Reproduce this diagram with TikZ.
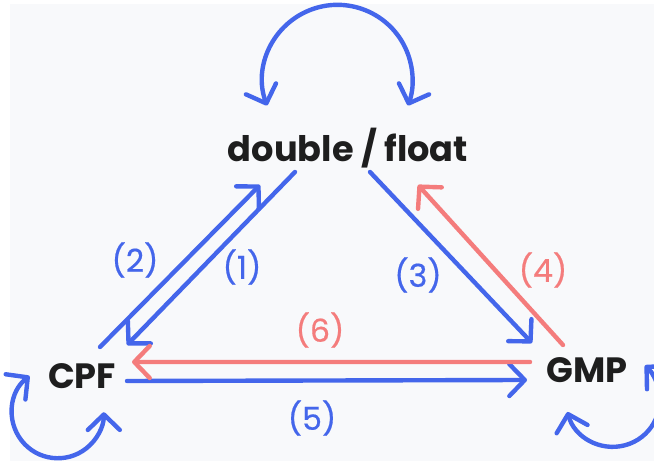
\documentclass[tikz,border=0pt]{standalone}
\usepackage{fontspec}
\setmainfont{Poppins}
\newfontfamily\numfont{Poppins}[FakeBold=0.5]
\definecolor{inkblack}{HTML}{1E1E1E}
\definecolor{sketchblue}{HTML}{4466EB}
\definecolor{sketchred}{HTML}{F47C7C}
\definecolor{paper}{HTML}{F8F9FB}
\usetikzlibrary{arrows.meta}

\begin{document}
\begin{tikzpicture}[
  lbl/.style={font=\fontsize{20}{24}\selectfont\bfseries, text=inkblack, inner sep=0pt},
  num/.style={font=\numfont\fontsize{18}{22}\selectfont, inner sep=0pt},
  barb/.tip={Straight Barb[length=3.1mm,width=6.4mm,round]},
  arr/.style={-barb, line width=2.5pt, line cap=round},
  twoway/.style={barb-barb, line width=2.5pt, line cap=round, sketchblue}
]
  \clip (0,0) rectangle (13.08,9.22);
  \fill[paper] (0.2,0) rectangle (13.08,9.14);

  \node[lbl] (df) at (6.96,6.26) {double / float};
  \node[lbl] (cpf) at (1.64,1.70) {CPF};
  \node[lbl] (gmp) at (11.74,1.82) {GMP};

  \draw[arr, sketchblue] ([shift={(-1.06,-0.48)}]df.center) -- ([shift={(0.90,0.62)}]cpf.center);
  \draw[arr, sketchblue] ([shift={(0.36,0.58)}]cpf.center) -- ([shift={(-1.76,-0.74)}]df.center);
  \draw[arr, sketchblue] ([shift={(0.44,-0.48)}]df.center) -- ([shift={(-1.10,0.54)}]gmp.center);
  \draw[arr, sketchred] ([shift={(-0.48,0.50)}]gmp.center) -- ([shift={(1.40,-0.74)}]df.center);
  \draw[arr, sketchblue] ([shift={(0.90,-0.10)}]cpf.center) -- ([shift={(-1.20,-0.20)}]gmp.center);
  \draw[arr, sketchred] ([shift={(-1.14,0.16)}]gmp.center) -- ([shift={(1.00,0.28)}]cpf.center);

  \draw[twoway] ([shift={(-1.62,0.85)}]df.center) arc[start angle=200, end angle=-20, radius=1.5];
  \draw[twoway] ([shift={(-1.05,0.00)}]cpf.center) arc[start angle=128, end angle=360, radius=0.92];
  \draw[twoway] ([shift={(-0.39,-0.84)}]gmp.center) arc[start angle=195, end angle=407, radius=0.94];

  \node[num, text=sketchblue] (n1) at (4.84,3.88) {(1)};
  \node[num, text=sketchblue] (n2) at (2.70,4.02) {(2)};
  \node[num, text=sketchblue] (n3) at (8.36,3.72) {(3)};
  \node[num, text=sketchred] (n4) at (10.86,3.82) {(4)};
  \node[num, text=sketchblue] (n5) at (6.24,0.86) {(5)};
  \node[num, text=sketchred] (n6) at (6.40,2.62) {(6)};
\end{tikzpicture}
\end{document}
